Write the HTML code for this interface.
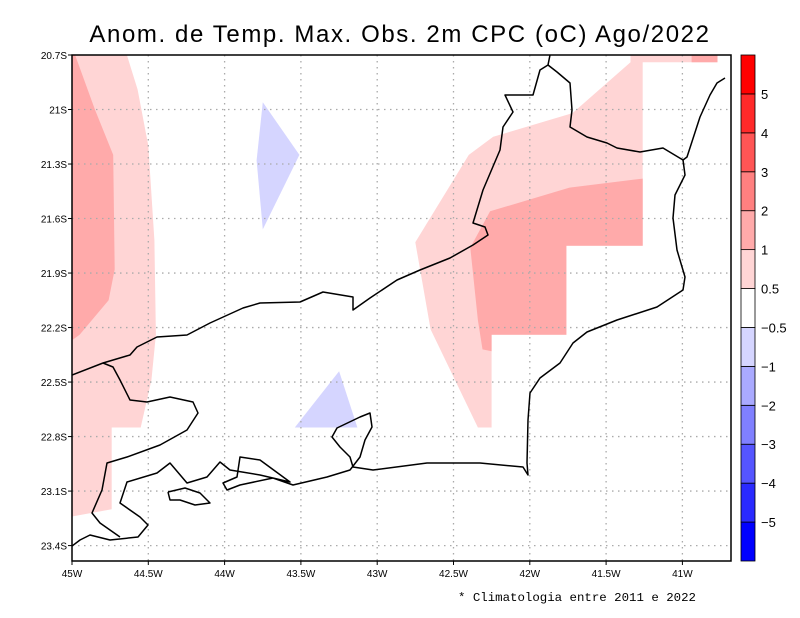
<!DOCTYPE html>
<html><head><meta charset="utf-8">
<style>
html,body{margin:0;padding:0;background:#fff;}
svg{display:block;font-family:"Liberation Sans",sans-serif;}
</style></head>
<body>
<svg id="chart" width="800" height="618" viewBox="0 0 800 618">
<defs><clipPath id="plotclip"><rect x="72" y="55" width="659" height="506"/></clipPath></defs>
<text x="400" y="42" text-anchor="middle" font-size="24" letter-spacing="1.6" fill="#000">Anom. de Temp. Max. Obs. 2m CPC (oC) Ago/2022</text>
<g id="shade" clip-path="url(#plotclip)"></g>
<g id="grid"></g>
<g id="coast" clip-path="url(#plotclip)"></g>
<rect x="72" y="55" width="659" height="506" fill="none" stroke="#000" stroke-width="1.5"/>
<g id="axes"></g>
<g id="cbar"></g>
<text x="458" y="601" font-size="12.4" font-family="Liberation Mono, monospace" fill="#000">* Climatologia entre 2011 e 2022</text>
</svg>
<script>
// ---- data ----
const lonTicks = [-45,-44.5,-44,-43.5,-43,-42.5,-42,-41.5,-41];
const lonLabels = ["45W","44.5W","44W","43.5W","43W","42.5W","42W","41.5W","41W"];
const latTicks = [-20.7,-21,-21.3,-21.6,-21.9,-22.2,-22.5,-22.8,-23.1,-23.4];
const latLabels = ["20.7S","21S","21.3S","21.6S","21.9S","22.2S","22.5S","22.8S","23.1S","23.4S"];
const cbarColors = ["#0000ff","#2a2aff","#5555ff","#8080ff","#aaaaff","#d5d5ff","#ffffff","#ffd5d5","#ffaaaa","#ff8080","#ff5555","#ff2a2a","#ff0000"];
const cbarLabels = ["\u22125","\u22124","\u22123","\u22122","\u22121","\u22120.5","0.5","1","2","3","4","5"];
// shaded anomaly regions (lon, lat) with level index into cbarColors
const leftLight = [[-45,-20.7],[-44.64,-20.7],[-44.57,-20.89],[-44.5,-21.2],[-44.46,-21.72],[-44.45,-22.24],[-44.48,-22.49],[-44.55,-22.75],[-44.74,-22.75],[-44.74,-23.2],[-45,-23.24]];
const leftDark = [[-45,-20.7],[-44.98,-20.7],[-44.85,-21.0],[-44.73,-21.25],[-44.72,-21.88],[-44.76,-22.05],[-44.95,-22.24],[-45,-22.27]];
const lavUpper = [[-43.75,-20.96],[-43.51,-21.25],[-43.75,-21.66],[-43.79,-21.28]];
const lavLower = [[-43.25,-22.44],[-43.13,-22.75],[-43.54,-22.75]];
const rightLight = [[-41.34,-20.7],[-40.77,-20.7],[-40.77,-20.74],[-41.26,-20.74],[-41.26,-21.75],[-41.76,-21.75],[-41.76,-22.24],[-42.25,-22.24],[-42.25,-22.75],[-42.34,-22.75],[-42.65,-22.21],[-42.75,-21.73],[-42.4,-21.25],[-42.24,-21.15],[-41.72,-21.02],[-41.34,-20.74]];
const rightDark = [[-42.39,-21.76],[-42.26,-21.56],[-41.74,-21.43],[-41.26,-21.38],[-41.26,-21.75],[-41.76,-21.75],[-41.76,-22.24],[-42.25,-22.24],[-42.25,-22.33],[-42.31,-22.32],[-42.34,-22.16]];
const topDark = [[-40.94,-20.7],[-40.77,-20.7],[-40.77,-20.74],[-40.94,-20.74]];
const regions = [leftLight, leftDark, lavUpper, lavLower, rightLight, rightDark, topDark];
const regionLevels = [7, 8, 5, 5, 7, 8, 8];
const regionNames = ["anomaly-left-light","anomaly-left-dark","anomaly-cold-upper","anomaly-cold-lower","anomaly-right-light","anomaly-right-dark","anomaly-topright-dark"];

// ---- scales ----
const X0=72, Y0=55, W=659, H=506;
function xs(lon){ return X0 + (lon + 45) * 152.6; }
function ys(lat){ return Y0 + (-20.7 - lat) * 181.7; }
const NS="http://www.w3.org/2000/svg";
function mk(tag, attrs, parent){ const e=document.createElementNS(NS,tag); for(const k in attrs) e.setAttribute(k,attrs[k]); parent.appendChild(e); return e; }

const shade=document.getElementById('shade');
regions.forEach((r,i)=>{
  const p=mk('polygon',{points:r.map(d=>xs(d[0]).toFixed(1)+','+ys(d[1]).toFixed(1)).join(' '),fill:cbarColors[regionLevels[i]]},shade);
  
  
});

const grid=document.getElementById('grid'), axes=document.getElementById('axes');
lonTicks.forEach((v,i)=>{
  const x=xs(v);
  if(i>0){ const l=mk('line',{x1:x,y1:Y0,x2:x,y2:Y0+H,stroke:'#aaa','stroke-width':1.3,'stroke-dasharray':'1.5,4.5'},grid);
    
     }
  const t=mk('text',{x:x,y:577,'text-anchor':'middle','font-size':10},axes); t.textContent=lonLabels[i];
  
  
  mk('line',{x1:x,y1:Y0+H,x2:x,y2:Y0+H+4,stroke:'#000'},axes);
});
latTicks.forEach((v,i)=>{
  const y=ys(v);
  if(i>0){ const l=mk('line',{x1:X0,y1:y,x2:X0+W,y2:y,stroke:'#aaa','stroke-width':1.3,'stroke-dasharray':'1.5,4.5'},grid);
    
     }
  const t=mk('text',{x:67,y:y+4,'text-anchor':'end','font-size':10},axes); t.textContent=latLabels[i];
  
  
  mk('line',{x1:X0-4,y1:y,x2:X0,y2:y,stroke:'#000'},axes);
});

// colorbar
const cb=document.getElementById('cbar');
const cbX=741, cbW=14, cbTop=55, cbH=506, seg=cbH/cbarColors.length;
cbarColors.forEach((c,i)=>{
  const y=cbTop+cbH-(i+1)*seg;
  const r=mk('rect',{x:cbX,y:y,width:cbW,height:seg,fill:c,stroke:'#000','stroke-width':0.8},cb);
  
  
});
cbarLabels.forEach((s,i)=>{
  const y=cbTop+cbH-(i+1)*seg;
  const t=mk('text',{x:761,y:y+5,'font-size':13},cb); t.textContent=s;
  
  
});

// base map (pixel polylines, geography not data)
const coastLines=[
 "72,375 103,363 130,355 137,347 157,337 187,335 210,323 243,308 260,303 300,302 323,292 353,297 353,310 370,298 397,280 420,270 450,258 473,245 488,235 485,227 473,223 483,190 500,150 503,127 513,112 505,95 533,95 540,70 548,65 550,55",
 "548,65 557,72 570,83 572,110 570,127 587,137 607,143 617,148 640,152 663,148 683,160 687,157 700,117 710,95 717,83 725,78",
 "683,160 685,175 675,195 673,218 677,250 685,277 683,290 657,307 617,320 587,332 573,343 560,363 540,378 530,393 528,420 527,463 528,475 523,467 480,463 427,463 373,470 353,467 350,457 340,447 332,437 337,428 360,417 370,413 372,427 365,440 360,457 350,470 327,477 293,485 273,478 240,485 227,490 223,483 237,477 240,457 260,460 290,482 260,475 230,470 220,462 207,477 187,483 170,463 157,473 127,482 120,503 140,517 148,525 138,537 110,540 90,535 80,540 72,546",
 "103,363 113,367 120,380 130,400 147,402 170,397 193,402 198,413 187,430 160,445 127,457 107,463 102,490 92,513 100,523 110,530 120,537",
 "168,492 185,488 200,493 210,503 195,505 180,500 170,500 168,492"
];
const coast=document.getElementById('coast');
coastLines.forEach(pts=>{
  const p=mk('polyline',{points:pts,fill:'none',stroke:'#000','stroke-width':1.5,'stroke-linejoin':'round'},coast);
  
  
});
</script>
</body></html>
